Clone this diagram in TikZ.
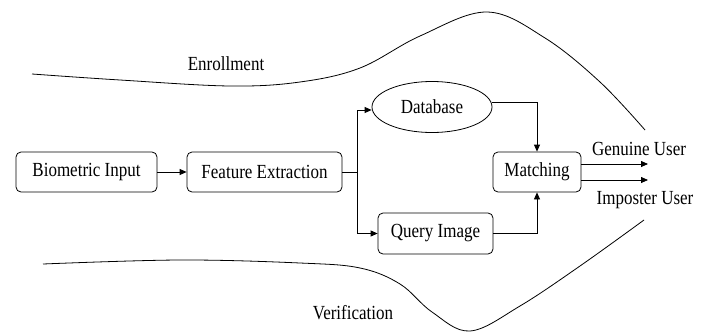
\documentclass[tikz,border=0pt]{standalone}
\usepackage{fontspec}
\setmainfont{Liberation Serif}[FakeStretch=0.85]
\usetikzlibrary{arrows.meta,shapes.geometric}
\begin{document}
\begin{tikzpicture}[x=1pt,y=-1pt,
  every node/.style={font=\fontsize{20}{22}\selectfont, inner sep=0pt},
  box/.style={draw, line width=0.8pt, rounded corners=5pt},
  conn/.style={line width=0.8pt},
  arr/.style={conn, -{Triangle[length=7pt,width=6pt]}},
  lobe/.style={line width=0.8pt}]
\useasboundingbox (0,0) rectangle (710,332);
\node[box, minimum width=141pt, minimum height=40pt] (bio) at (86.5,172) {Biometric Input};
\node[box, minimum width=155pt, minimum height=40pt] (fe) at (264.5,172) {Feature Extraction};
\node[draw, line width=0.8pt, ellipse, minimum width=120pt, minimum height=51pt] (db) at (432,107) {Database};
\node[box, minimum width=88pt, minimum height=40pt] (m) at (537,172) {Matching};
\node[box, minimum width=115pt, minimum height=41pt] (q) at (435.5,233.5) {Query Image};
\node (gu) at (639,149) {Genuine User};
\node (iu) at (645,200) {Imposter User};
\node (en) at (226,64) {Enrollment};
\node (ve) at (353,313) {Verification};
\coordinate (split) at (357,172);
\coordinate (g) at (648,164);
\coordinate (i) at (648,180);
\draw[arr] (bio) -- (fe);
\draw[conn] (fe.east) -- (split);
\draw[arr] (split) |- ([yshift=-3pt]db.west);
\draw[arr] (split) |- (q.west);
\draw[arr] ([yshift=5pt]db.east) -| (m.north);
\draw[arr] (q.east) -| (m.south);
\draw[arr] (m.east |- g) -- (g);
\draw[arr] (m.east |- i) -- (i);
\draw[lobe] plot[smooth, tension=0.6] coordinates {(32,74) (120,80) (230,86) (300,82) (360,68) (420,36) (487,12) (545,38) (600,82) (645,130)};
\draw[lobe] plot[smooth, tension=0.6] coordinates {(43,264) (180,260) (300,263) (360,268) (400,284) (432,312) (470,331) (520,306) (580,266) (644,220)};
\end{tikzpicture}
\end{document}
